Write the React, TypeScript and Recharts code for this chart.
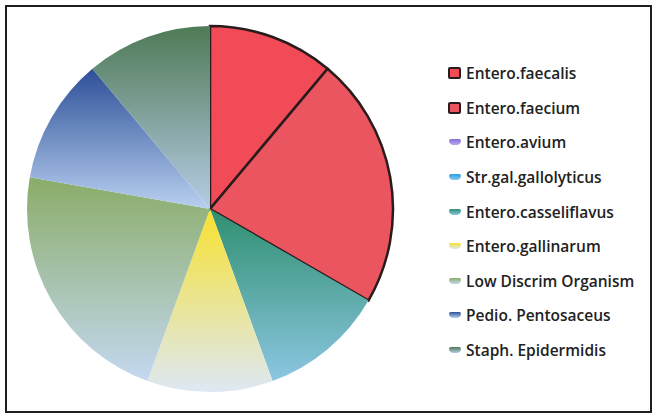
import { PieChart, Pie, Cell, Legend } from 'recharts'

const organisms = [
  'Entero.faecalis',
  'Entero.faecium',
  'Entero.avium',
  'Str.gal.gallolyticus',
  'Entero.casseliflavus',
  'Entero.gallinarum',
  'Low Discrim Organism',
  'Pedio. Pentosaceus',
  'Staph. Epidermidis',
]
const isolateCounts = [4, 8, 0, 0, 4, 4, 8, 4, 4]

// top / bottom colours of each slice gradient
const topColors = ['#f04b56', '#ea5560', '#8a6fd6', '#2a9fe0', '#2f8f6f', '#f8e12e', '#8aac68', '#2d4f98', '#4e7a55']
const bottomColors = ['#f04b56', '#ea5560', '#b9a8ec', '#8ccaf0', '#8cc6e2', '#dde8f4', '#c4d8f0', '#b8d0f0', '#b6cce6']
const outlined = [true, true, false, false, false, false, false, false, false]

const data = organisms.map((name, i) => ({ name, value: isolateCounts[i] }))

function LegendList() {
  return (
    <div style={{ fontFamily: '"Open Sans", sans-serif', fontSize: 15.5, fontWeight: 600, color: '#222' }}>
      {organisms.map((name, i) => (
        <div key={name} style={{ height: 34.6, display: 'flex', alignItems: 'center', whiteSpace: 'nowrap' }}>
          {outlined[i] ? (
            <span
              style={{
                width: 9,
                height: 8,
                background: topColors[i],
                border: '2px solid #2a1c1c',
                borderRadius: 2,
                marginRight: 5,
              }}
            />
          ) : (
            <span
              style={{
                width: 12,
                height: 6,
                marginLeft: 1,
                background: `linear-gradient(${topColors[i]}, ${bottomColors[i]})`,
                borderRadius: '2px 2px 5px 5px',
                marginRight: 5,
              }}
            />
          )}
          <span>{name}</span>
        </div>
      ))}
    </div>
  )
}

export default function App() {
  return (
    <div style={{ position: 'absolute', left: 0, top: 0, width: 652, height: 414, background: '#fff' }}>
      <div
        style={{
          position: 'absolute',
          left: 5,
          top: 5,
          width: 643,
          height: 404,
          border: '2px solid #1e1e1e',
        }}
      />
      <PieChart
        width={652}
        height={414}
        margin={{ top: 0, right: 0, bottom: 0, left: 0 }}
        style={{ position: 'absolute', left: 0, top: 0 }}
      >
        <defs>
          {organisms.map((name, i) => (
            <linearGradient key={name} id={`slice-${i}`} x1="0" y1="0" x2="0" y2="1">
              <stop offset="0%" stopColor={topColors[i]} />
              <stop offset="100%" stopColor={bottomColors[i]} />
            </linearGradient>
          ))}
        </defs>
        <Pie
          data={data}
          dataKey="value"
          nameKey="name"
          cx={210}
          cy={209}
          outerRadius={183}
          startAngle={90}
          endAngle={-270}
          isAnimationActive={false}
        >
          {data.map((d, i) => (
            <Cell
              key={d.name}
              fill={`url(#slice-${i})`}
              stroke={outlined[i] ? '#2a1c1c' : 'none'}
              strokeWidth={outlined[i] ? 2.5 : 0}
            />
          ))}
        </Pie>
        <Legend
          layout="vertical"
          content={() => <LegendList />}
          wrapperStyle={{ position: 'absolute', left: 448, top: 56, width: 200 }}
        />
      </PieChart>
    </div>
  )
}
